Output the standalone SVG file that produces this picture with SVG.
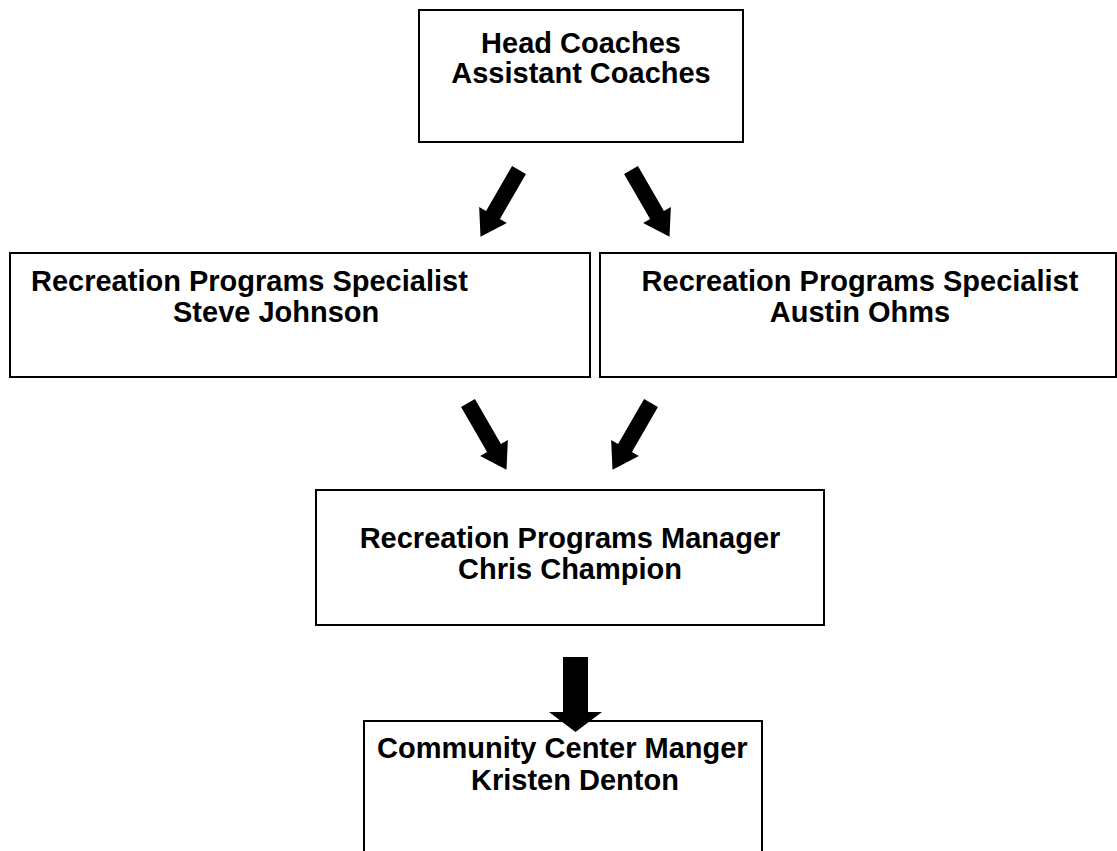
<svg xmlns="http://www.w3.org/2000/svg" xmlns:xlink="http://www.w3.org/1999/xlink" width="1117" height="851" viewBox="0 0 1117 851">
  <style>
    .box { fill: #ffffff; stroke: #000000; stroke-width: 2; }
    .lbl { font-family: "Liberation Sans", Arial, sans-serif; font-weight: bold; font-size: 29px; fill: #000000; }
    .mid { text-anchor: middle; }
    .arr { fill: #000000; stroke: none; }
  </style>
  <defs>
    <polygon id="diag" class="arr" points="0,-8 52,-8 52,-16 77,0 52,16 52,8 0,8"/>
  </defs>
  <rect x="0" y="0" width="1117" height="851" fill="#ffffff"/>

  <g id="node-coaches">
    <rect class="box" x="419" y="10" width="324" height="132"/>
    <text class="lbl mid" x="581" y="53">Head Coaches</text>
    <text class="lbl mid" x="581" y="83">Assistant Coaches</text>
  </g>

  <g id="node-specialist-johnson">
    <rect class="box" x="10" y="253" width="580" height="124"/>
    <text class="lbl" x="31" y="291">Recreation Programs Specialist</text>
    <text class="lbl" x="173" y="322">Steve Johnson</text>
  </g>

  <g id="node-specialist-ohms">
    <rect class="box" x="600" y="253" width="516" height="124"/>
    <text class="lbl mid" x="860" y="291">Recreation Programs Specialist</text>
    <text class="lbl mid" x="860" y="322">Austin Ohms</text>
  </g>

  <g id="node-manager">
    <rect class="box" x="316" y="490" width="508" height="135"/>
    <text class="lbl mid" x="570" y="548">Recreation Programs Manager</text>
    <text class="lbl mid" x="570" y="579">Chris Champion</text>
  </g>

  <g id="node-community">
    <rect class="box" x="364" y="721" width="398" height="140"/>
    <text class="lbl" x="377" y="758">Community Center Manger</text>
    <text class="lbl" x="471" y="790">Kristen Denton</text>
  </g>

  <g id="connectors">
    <use xlink:href="#diag" transform="translate(519,170) rotate(120)"/>
    <use xlink:href="#diag" transform="translate(631,170) rotate(60)"/>
    <use xlink:href="#diag" transform="translate(468,403) rotate(60)"/>
    <use xlink:href="#diag" transform="translate(651,403) rotate(120)"/>
    <polygon class="arr" points="563,657 588,657 588,712 602,712 575.5,732 549,712 563,712"/>
  </g>
</svg>
